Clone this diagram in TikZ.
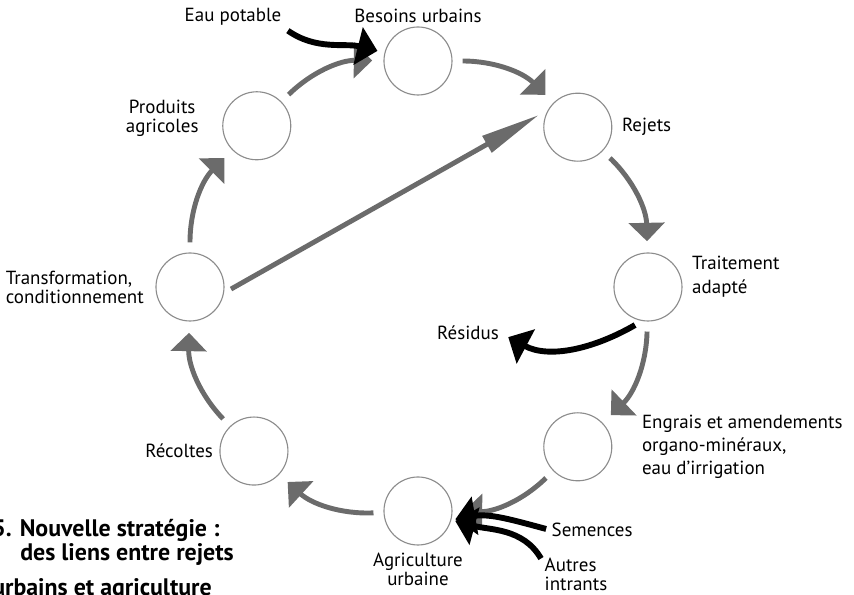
\documentclass[tikz,border=0pt]{standalone}
\usepackage{xcolor}
\usepackage{fontspec}
\setmainfont{PT Sans}
\usetikzlibrary{arrows.meta,positioning}

\definecolor{flowgray}{gray}{0.42}
\definecolor{ringgray}{gray}{0.55}

\begin{document}
\begin{tikzpicture}[
	vertex/.style={draw=ringgray, line width=0.8pt, circle, minimum size=1.7cm, inner sep=0pt},
	txt/.style={font=\fontsize{13.5}{13.5}\selectfont, inner sep=1pt},
	flow/.style={draw=flowgray, line width=3.5pt, -{Triangle[length=0.46cm, width=0.88cm]}, shorten <=0.25cm, shorten >=0.28cm},
	input/.style={draw=black, line width=4.2pt, -{Triangle[length=0.5cm, width=0.95cm]}},
	caption/.style={font=\fontsize{17}{19}\selectfont\bfseries, inner sep=0pt, anchor=base west}]

	\useasboundingbox[clip] (-10.45, -7.7) rectangle (10.9, 7.175);

	\node[vertex] (V1) at (90:5.65) {};
	\node[vertex] (V2) at (45:5.65) {};
	\node[vertex] (V3) at (0:5.75) {};
	\node[vertex] (V4) at (-45:5.65) {};
	\node[vertex] (V5) at (-90:5.6) {};
	\node[vertex] (V6) at (-135:5.8) {};
	\node[vertex] (V7) at (180:5.7) {};
	\node[vertex] (V8) at (135:5.7) {};

	\node[txt, above=0.06cm of V1] (L1) {Besoins urbains};
	\node[txt, right=0.2cm of V2] (L2) {Rejets};
	\node[txt, right=0.2cm of V3, yshift=0.25cm, align=left, font=\fontsize{13.5}{17}\selectfont] (L3) {Traitement\\adapté};
	\node[txt, right=0.7cm of V4, align=left, font=\fontsize{13.5}{16.5}\selectfont] (L4) {Engrais et amendements\\organo-minéraux,\\eau d’irrigation};
	\node[txt, below=0.15cm of V5, align=center] (L5) {Agriculture\\urbaine};
	\node[txt, left=0.12cm of V6] (L6) {Récoltes};
	\node[txt, left=0.25cm of V7, align=left] (L7) {Transformation,\\conditionnement};
	\node[txt, left=0.55cm of V8, yshift=0.18cm, align=center] (L8) {Produits\\agricoles};

	\node[txt] (eau) at (-4.625, 6.75) {Eau potable};
	\node[txt] (res) at (1.25, -1.15) {Résidus};
	\node[txt, anchor=west] (sem) at (3.3, -6.075) {Semences};
	\node[txt, anchor=west, align=left] (aut) at (3.125, -7.175) {Autres\\intrants};

	\node[caption] (C1) at (-10.65, -6.25) {5. Nouvelle stratégie :};
	\node[caption] (C2) at (-9.95, -6.85) {des liens entre rejets};
	\node[caption] (C3) at (-10.65, -7.72) {urbains et agriculture};

	\draw[flow] (V1) to[bend left=22.5] (V2);
	\draw[flow] (V2) to[bend left=22.5] (V3);
	\draw[flow] (V3) to[bend left=22.5] (V4);
	\draw[flow] (V4) to[bend left=22.5] (V5);
	\draw[flow] (V5) to[bend left=22.5] (V6);
	\draw[flow] (V6) to[bend left=22.5] (V7);
	\draw[flow] (V7) to[bend left=22.5] (V8);
	\draw[flow] (V8) to[bend left=22.5] (V1);
	\draw[flow, -{Triangle[length=1.5cm, width=0.45cm]}, shorten <=0.2cm, shorten >=0.25cm] (V7.-10) -- (V2.150);

	\draw[input, shorten <=0.15cm, shorten >=0.18cm] (eau.south east) to[out=-35, in=166] (V1.166);
	\draw[input, shorten <=0.2cm, shorten >=0.22cm] (V3.-100) to[out=210, in=-28] (res.east);
	\draw[input, shorten <=0.1cm, shorten >=0.1cm] (sem.west) to[out=165, in=10] (V5.-15);
	\draw[input, shorten <=0.1cm, shorten >=0.1cm] (aut.160) to[out=120, in=-15] (V5.-15);
\end{tikzpicture}
\end{document}
